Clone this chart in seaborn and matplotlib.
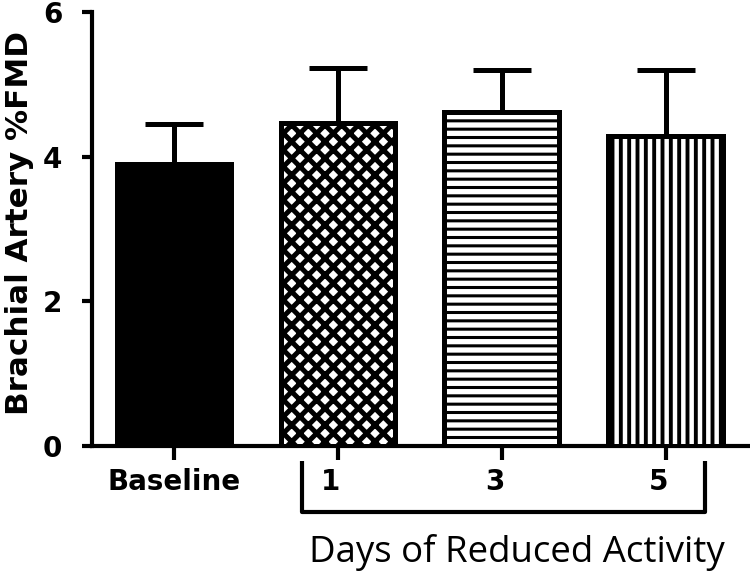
import matplotlib
matplotlib.use("Agg")
import matplotlib.pyplot as plt
import matplotlib.transforms as mtransforms
import seaborn as sns
import numpy as np
import pandas as pd

# 数据
groups = ["Baseline", "1", "3", "5"]
fmd_mean = [3.90, 4.47, 4.62, 4.28]
fmd_sem = [0.55, 0.76, 0.58, 0.92]
face_colors = ["black", "white", "white", "white"]
hatches = ["", "xx", "--", "||"]
hatch_widths = [1.0, 3.6, 2.2, 2.8]
y_ticks = [0, 2, 4, 6]

sns.set_theme(style="ticks")
plt.rcParams["font.family"] = ["DejaVu Sans"]
plt.rcParams["text.color"] = "black"
plt.rcParams["hatch.linewidth"] = 2.5

fig = plt.figure(figsize=(7.5, 5.71), dpi=100)
ax = fig.add_axes([0.1227, 0.219, 0.8743, 0.760])

df = pd.DataFrame({"group": groups, "fmd": fmd_mean})
sns.barplot(data=df, x="group", y="fmd", ax=ax, color="white", width=0.7,
            edgecolor="black", linewidth=3.6, errorbar=None, zorder=3)

for patch, fc, h, hw in zip(ax.patches, face_colors, hatches, hatch_widths):
    patch.set_facecolor(fc)
    patch.set_hatch(h)
    if hasattr(patch, "set_hatch_linewidth"):
        patch.set_hatch_linewidth(hw)

# 误差线 (仅向上)
ax.errorbar(np.arange(len(groups)), fmd_mean,
            yerr=[np.zeros(len(groups)), fmd_sem],
            fmt="none", ecolor="black", elinewidth=3.6,
            capsize=21, capthick=3.6, zorder=2)

ax.set_xlim(-0.5, 3.5)
ax.set_ylim(0, 6)
ax.set_yticks(y_ticks)
ax.set_yticklabels([str(t) for t in y_ticks], fontsize=20, fontweight="bold")
ax.set_xticks(range(len(groups)))
ax.set_xticklabels(groups, fontsize=20, fontweight="bold")
ax.tick_params(axis="y", length=7.5, width=3, pad=14, colors="black")
ax.tick_params(axis="x", length=10, width=3, pad=6, colors="black")
ax.set_xlabel("")
ax.set_ylabel("")

# 天数标签稍向左移
for lbl in ax.get_xticklabels()[1:]:
    lbl.set_transform(lbl.get_transform()
                      + mtransforms.ScaledTranslation(-5 / 72, 0, fig.dpi_scale_trans))

sns.despine(ax=ax)
for side in ["left", "bottom"]:
    ax.spines[side].set_linewidth(3)
    ax.spines[side].set_color("black")

# y 轴标题
fig.text(28 / 750, 0.6086, "Brachial Artery %FMD", rotation=90,
         rotation_mode="anchor", ha="center", va="baseline",
         fontsize=22.3, fontweight="bold", color="black")

# 括号 + 标签
trans = mtransforms.blended_transform_factory(ax.transData, ax.transAxes)
ax.plot([0.78, 0.78, 3.24, 3.24], [-0.035, -0.152, -0.152, -0.035],
        transform=trans, color="black", lw=3, clip_on=False,
        solid_joinstyle="round", solid_capstyle="butt")
ax.text(2.09, -0.267, "Days of Reduced Activity", transform=trans,
        ha="center", va="baseline", fontsize=26.4, color="black",
        family=["Open Sans", "DejaVu Sans"])

fig.savefig("out.png", dpi=100)
